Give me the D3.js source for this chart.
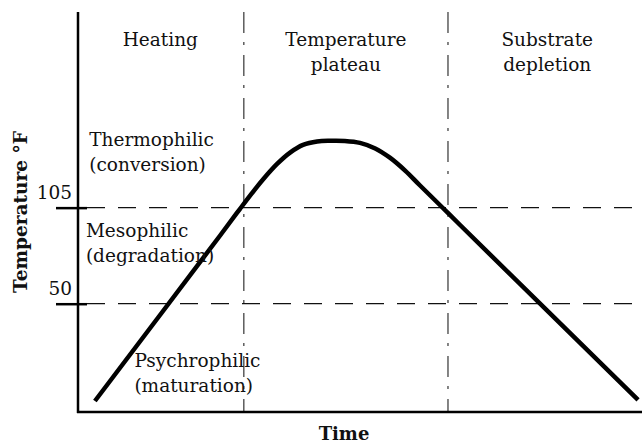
<!DOCTYPE html>
<html>
<head>
<meta charset="utf-8">
<script src="https://cdn.jsdelivr.net/npm/d3@7"></script>
<style>
  body { margin: 0; background: #fff; }
  text { font-family: "DejaVu Serif", serif; fill: #111; }
</style>
</head>
<body>
<div id="chart"></div>
<script>
// schematic compost temperature curve
const time = [3.0, 25.2, 28.7, 30.85, 32.8, 35.3, 37.6, 39.9, 42.4, 44.7, 47.3, 50.0, 52.7, 55.3, 58.0, 60.6, 64.7, 67.7, 99.3];
const temperature = [-5.7, 89.05, 104.2, 113.3, 121.1, 130.0, 136.5, 140.9, 142.9, 143.3, 143.2, 142.1, 138.9, 133.6, 126.2, 117.8, 104.8, 95.2, -5.1];

const phases = ["Heating", "Temperature\nplateau", "Substrate\ndepletion"];
const phaseBounds = [29.4, 65.6];
const phaseCenters = [14.6, 47.5, 83.2];

const thresholds = [50, 105];

const zones = ["Thermophilic\n(conversion)", "Mesophilic\n(degradation)", "Psychrophilic\n(maturation)"];
const zoneAnchors = [[2, 140.3], [1.4, 88.2], [10, 13.8]];

const width = 642, height = 444;
const margin = {left: 78, right: 0, top: 12, bottom: 32};
const fontSize = 18.5;

const x = d3.scaleLinear().domain([0, 100]).range([margin.left, width - margin.right]);
const y = d3.scaleLinear().domain([-12, 217]).range([height - margin.bottom, margin.top]);

const svg = d3.select('#chart')
    .append('svg')
    .attr('width', width)
    .attr('height', height);

// horizontal dashed threshold lines
svg.append('g')
    .selectAll('line')
    .data(thresholds)
    .join('line')
    .attr('x1', x(0) - 22)
    .attr('x2', width)
    .attr('y1', d => y(d))
    .attr('y2', d => y(d))
    .attr('stroke', '#111')
    .attr('stroke-width', 1.3)
    .attr('stroke-dasharray', '18,13');

// phase boundaries, dash-dot
svg.append('g')
    .selectAll('line')
    .data(phaseBounds)
    .join('line')
    .attr('x1', d => x(d))
    .attr('x2', d => x(d))
    .attr('y1', y(217))
    .attr('y2', y(-12))
    .attr('stroke', '#444')
    .attr('stroke-width', 1.3)
    .attr('stroke-dasharray', '21,9,3,10');

// y axis with the two ticks
const yAxis = d3.axisLeft(y).tickValues(thresholds).tickSize(22).tickSizeOuter(0).tickPadding(6);
const gy = svg.append('g')
    .attr('transform', `translate(${x(0)},0)`)
    .call(yAxis);
gy.select('.domain').remove();
gy.selectAll('.tick line')
    .attr('x1', 9)
    .attr('stroke', '#000')
    .attr('stroke-width', 2.5);
gy.selectAll('.tick text')
    .attr('x', -6)
    .attr('dy', -9)
    .style('font-family', '"DejaVu Serif", serif')
    .style('font-size', fontSize + 'px')
    .attr('fill', '#111');

// axis lines
svg.append('line')
    .attr('x1', x(0)).attr('x2', x(0))
    .attr('y1', y(217)).attr('y2', y(-12) + 1)
    .attr('stroke', '#000').attr('stroke-width', 2.5);
svg.append('line')
    .attr('x1', x(0) - 1).attr('x2', x(100))
    .attr('y1', y(-12)).attr('y2', y(-12))
    .attr('stroke', '#000').attr('stroke-width', 2.5);

// the temperature curve
const line = d3.line()
    .x((d, i) => x(time[i]))
    .y(d => y(d))
    .curve(d3.curveCatmullRom.alpha(0.5));
svg.append('path')
    .datum(temperature)
    .attr('d', line)
    .attr('fill', 'none')
    .attr('stroke', '#000')
    .attr('stroke-width', 4.5);

// phase titles
phases.forEach((p, i) => {
    const t = svg.append('text')
        .attr('text-anchor', 'middle')
        .attr('font-size', fontSize)
        .attr('x', x(phaseCenters[i]))
        .attr('y', 46);
    p.split('\n').forEach((s, j) => {
        t.append('tspan').attr('x', x(phaseCenters[i])).attr('dy', j ? 25 : 0).text(s);
    });
});

// zone labels
zones.forEach((z, i) => {
    const t = svg.append('text')
        .attr('font-size', fontSize)
        .attr('x', x(zoneAnchors[i][0]))
        .attr('y', y(zoneAnchors[i][1]));
    z.split('\n').forEach((s, j) => {
        t.append('tspan').attr('x', x(zoneAnchors[i][0])).attr('dy', j ? 25 : 0).text(s);
    });
});

// axis titles
svg.append('text')
    .attr('transform', `translate(27,212) rotate(-90)`)
    .attr('text-anchor', 'middle')
    .attr('font-weight', 'bold')
    .attr('font-size', 18.5)
    .text('Temperature °F');
svg.append('text')
    .attr('x', 344)
    .attr('y', 440)
    .attr('text-anchor', 'middle')
    .attr('font-weight', 'bold')
    .attr('font-size', 18)
    .text('Time');
</script>
</body>
</html>
